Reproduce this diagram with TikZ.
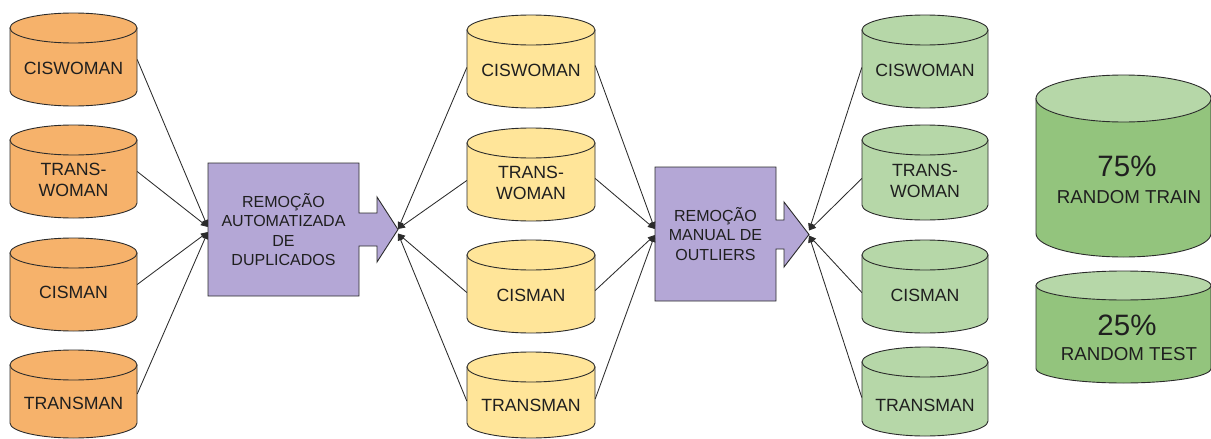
\documentclass[tikz,border=0pt]{standalone}
\usepackage{fontspec}
\setmainfont{Liberation Sans}
\usetikzlibrary{arrows.meta}

\definecolor{dbOrange}{HTML}{F6B26B}
\definecolor{dbYellow}{HTML}{FFE599}
\definecolor{dbGreen}{HTML}{B6D7A8}
\definecolor{dbGreenDark}{HTML}{93C47D}
\definecolor{stepPurple}{HTML}{B4A7D6}
\definecolor{inkText}{HTML}{1F1F1F}
\definecolor{inkLine}{HTML}{2B2B2B}

% database cylinder: name, centre x, top y, x radius, bottom y, y radius, body fill, top fill
\newcommand{\dbcyl}[8]{%
  \filldraw[cylline, fill=#7] (#2-#4,#3+#6) -- (#2-#4,#5-#6)
    arc[start angle=180, end angle=360, x radius=#4pt, y radius=#6pt]
    -- (#2+#4,#3+#6) -- cycle;
  \filldraw[cylline, fill=#8] (#2,#3+#6) ellipse[x radius=#4pt, y radius=#6pt];
  \node[inner sep=0pt, minimum width={2*#4*1pt}, minimum height={(#5-#3)*1pt}]
    (#1) at (#2,{(#3+#5)/2}) {};%
}

\begin{document}
\begin{tikzpicture}[x=1pt, y=-1pt,
  cylline/.style={draw=inkLine, line width=0.9pt},
  cyltext/.style={font=\fontsize{17.7}{21.5}\selectfont, align=center, text=inkText, inner sep=0pt},
  steptext/.style={font=\fontsize{16}{19.2}\selectfont, align=center, text=inkText, inner sep=0pt},
  bigpct/.style={font=\fontsize{29.5}{32}\selectfont, text=inkText, inner sep=0pt},
  bigname/.style={font=\fontsize{18.7}{22}\selectfont, text=inkText, inner sep=0pt},
  stepshape/.style={draw=inkLine, line width=0.9pt, fill=stepPurple},
  link/.style={draw=inkLine, line width=0.85pt, -{Triangle[length=7pt, width=6pt]}}
]
\useasboundingbox (0,0) rectangle (1211,439);

% ---- source datasets ----
\dbcyl{o1}{73.5}{13}{63.5}{106}{15}{dbOrange}{dbOrange}
\dbcyl{o2}{73.5}{125}{63.5}{218}{15}{dbOrange}{dbOrange}
\dbcyl{o3}{73.5}{238}{63.5}{331}{15}{dbOrange}{dbOrange}
\dbcyl{o4}{73.5}{350}{63.5}{438}{15}{dbOrange}{dbOrange}
\node[cyltext] (o1t) at (73.5,68) {CISWOMAN};
\node[cyltext] (o2t) at (73.5,180) {TRANS-\\WOMAN};
\node[cyltext] (o3t) at (73.5,292) {CISMAN};
\node[cyltext] (o4t) at (73.5,403) {TRANSMAN};

% ---- deduplicated datasets ----
\dbcyl{y1}{531}{15}{64}{108}{15}{dbYellow}{dbYellow}
\dbcyl{y2}{531}{128}{64}{221}{15}{dbYellow}{dbYellow}
\dbcyl{y3}{531}{240}{64}{333}{15}{dbYellow}{dbYellow}
\dbcyl{y4}{531}{352}{64}{438}{15}{dbYellow}{dbYellow}
\node[cyltext] (y1t) at (531,70) {CISWOMAN};
\node[cyltext] (y2t) at (531,183) {TRANS-\\WOMAN};
\node[cyltext] (y3t) at (531,295) {CISMAN};
\node[cyltext] (y4t) at (531,405) {TRANSMAN};

% ---- cleaned datasets ----
\dbcyl{g1}{925}{15}{63}{108}{15}{dbGreen}{dbGreen}
\dbcyl{g2}{925}{125}{63}{220}{15}{dbGreen}{dbGreen}
\dbcyl{g3}{925}{240}{63}{333}{15}{dbGreen}{dbGreen}
\dbcyl{g4}{925}{347}{63}{436}{15}{dbGreen}{dbGreen}
\node[cyltext] (g1t) at (925,70) {CISWOMAN};
\node[cyltext] (g2t) at (925,181) {TRANS-\\WOMAN};
\node[cyltext] (g3t) at (925,295) {CISMAN};
\node[cyltext] (g4t) at (925,405) {TRANSMAN};

% ---- train / test split ----
\dbcyl{tr}{1123.5}{75}{87.5}{257}{23.5}{dbGreenDark}{dbGreen}
\dbcyl{te}{1123.5}{271}{87.5}{383}{14.5}{dbGreenDark}{dbGreen}
\node[bigpct]  (trp) at (1127,166) {75\%};
\node[bigname] (trn) at (1129,197) {RANDOM TRAIN};
\node[bigpct]  (tep) at (1127,325) {25\%};
\node[bigname] (ten) at (1129,354) {RANDOM TEST};

% ---- processing steps (box with arrow) ----
\path[stepshape] (208,163) -- (359,163) -- (359,213) -- (377,213) -- (377,197)
  -- (398,229.5) -- (377,262) -- (377,246) -- (359,246) -- (359,296) -- (208,296) -- cycle;
\node[steptext, minimum width=151pt, minimum height=133pt] (b1) at (283.5,229.5)
  {REMOÇÃO\\AUTOMATIZADA\\DE\\DUPLICADOS};
\coordinate (t1) at (398,229.5);

\path[stepshape] (655,167) -- (776,167) -- (776,220) -- (784,220) -- (784,202)
  -- (809,234.5) -- (784,267) -- (784,249) -- (776,249) -- (776,301) -- (655,301) -- cycle;
\node[steptext, minimum width=121pt, minimum height=134pt] (b2) at (715.5,234)
  {REMOÇÃO\\MANUAL DE\\OUTLIERS};
\coordinate (t2) at (809,234.5);

% ---- connectors ----
\draw[link] (o1.east) -- ([yshift=2.5pt]b1.west);
\draw[link] (o2.east) -- ([yshift=2.5pt]b1.west);
\draw[link] (o3.east) -- ([yshift=-2.5pt]b1.west);
\draw[link] (o4.east) -- ([yshift=-2.5pt]b1.west);

\draw[link] ([yshift=-6pt]y1.west) -- ([yshift=0.5pt]t1);
\draw[link] ([yshift=-6pt]y2.west) -- ([yshift=0.5pt]t1);
\draw[link] ([yshift=-6pt]y3.west) -- ([yshift=-4pt]t1);
\draw[link] ([yshift=-6pt]y4.west) -- ([yshift=-4pt]t1);

\draw[link] ([yshift=-4pt]y1.east) -- ([yshift=5pt]b2.west);
\draw[link] ([yshift=-4pt]y2.east) -- ([yshift=5pt]b2.west);
\draw[link] ([yshift=-4pt]y3.east) -- ([yshift=-1pt]b2.west);
\draw[link] ([yshift=-4pt]y4.east) -- ([yshift=-1pt]b2.west);

\draw[link] ([yshift=-6pt]g1.west) -- ([yshift=4pt]t2);
\draw[link] ([yshift=-6pt]g2.west) -- ([yshift=4pt]t2);
\draw[link] ([yshift=-6pt]g3.west) -- ([yshift=-1pt]t2);
\draw[link] ([yshift=-6pt]g4.west) -- ([yshift=-1pt]t2);
\end{tikzpicture}
\end{document}
